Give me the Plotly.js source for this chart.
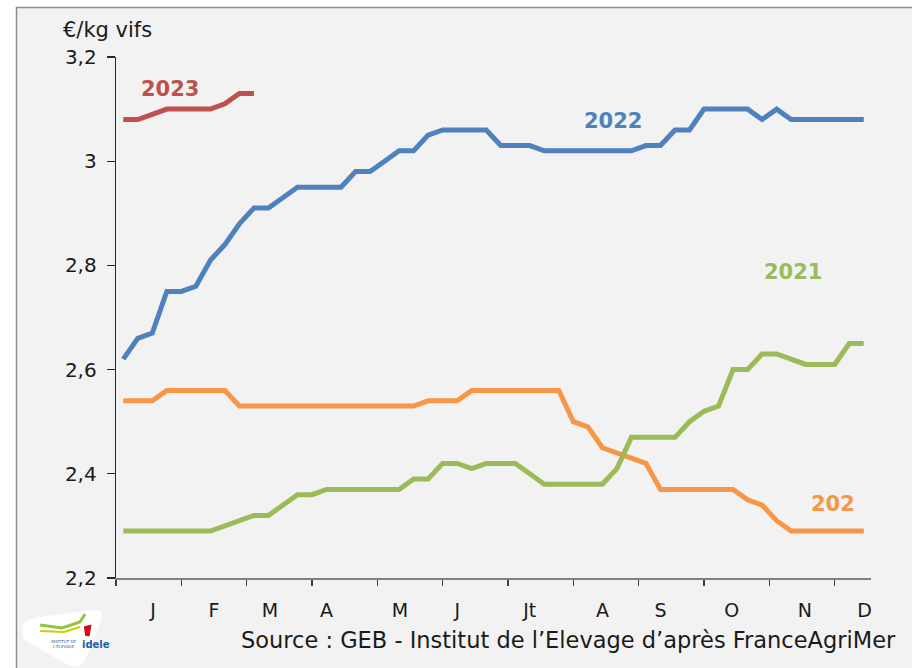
<!DOCTYPE html>
<html>
<head>
<meta charset="utf-8">
<script src="https://cdn.plot.ly/plotly-3.0.1.min.js"></script>
<style>html,body{margin:0;padding:0;background:#fff;}#chart{width:912px;height:668px;}</style>
</head>
<body>
<div id="chart"></div>
<script>
// ---- data ----
const weeks = [1,2,3,4,5,6,7,8,9,10,11,12,13,14,15,16,17,18,19,20,21,22,23,24,25,26,
  27,28,29,30,31,32,33,34,35,36,37,38,39,40,41,42,43,44,45,46,47,48,49,50,51,52];
const price2020 = [2.54,2.54,2.54,2.56,2.56,2.56,2.56,2.56,2.53,2.53,2.53,2.53,2.53,2.53,2.53,2.53,2.53,2.53,2.53,2.53,2.53,
  2.54,2.54,2.54,2.56,2.56,2.56,2.56,2.56,2.56,2.56,2.50,2.49,2.45,2.44,2.43,2.42,
  2.37,2.37,2.37,2.37,2.37,2.37,2.35,2.34,2.31,2.29,2.29,2.29,2.29,2.29,2.29];
const price2021 = [2.29,2.29,2.29,2.29,2.29,2.29,2.29,2.30,2.31,2.32,2.32,2.34,2.36,2.36,2.37,2.37,2.37,2.37,2.37,2.37,
  2.39,2.39,2.42,2.42,2.41,2.42,2.42,2.42,2.40,2.38,2.38,2.38,2.38,2.38,2.41,2.47,2.47,2.47,2.47,
  2.50,2.52,2.53,2.60,2.60,2.63,2.63,2.62,2.61,2.61,2.61,2.65,2.65];
const price2022 = [2.62,2.66,2.67,2.75,2.75,2.76,2.81,2.84,2.88,2.91,2.91,2.93,2.95,2.95,2.95,2.95,2.98,2.98,3.00,3.02,3.02,
  3.05,3.06,3.06,3.06,3.06,3.03,3.03,3.03,3.02,3.02,3.02,3.02,3.02,3.02,3.02,3.03,3.03,3.06,3.06,
  3.10,3.10,3.10,3.10,3.08,3.10,3.08,3.08,3.08,3.08,3.08,3.08];
const weeks2023 = [1,2,3,4,5,6,7,8,9,10];
const price2023 = [3.08,3.08,3.09,3.10,3.10,3.10,3.10,3.11,3.13,3.13];

const monthLabels = ["J","F","M","A","M","J","Jt","A","S","O","N","D"];
const monthLabelWeeks = [3.05,7.25,11.1,15,20.05,24,29,34,38,42.9,47.95,52.05];
const monthTickWeeks = [0.5,5,9.5,14,18.5,23,27.5,32,36.5,41,45.5,50];
const yTicks = [2.2,2.4,2.6,2.8,3.0,3.2];

const seriesNames = ["202","2021","2022","2023"];

// ---- styling / layout ----
const FONT = "DejaVu Sans";
const colors = {c2020:"#f79646", c2021:"#9bbb59", c2022:"#4f81bd", c2023:"#c0504d"};
const W = 912, H = 668, L = 116, R = 41, T = 57, B = 90;
const pw = W - L - R, ph = H - T - B;
const px = v => (v - L) / pw;         // pixel x -> paper x
const py = v => (H - B - v) / ph;     // pixel y -> paper y

function line(x, y, c) {
  return {x: x, y: y, type: "scatter", mode: "lines",
    line: {color: c, width: 5, shape: "linear"}, hoverinfo: "skip"};
}
const traces = [
  line(weeks, price2020, colors.c2020),
  line(weeks, price2021, colors.c2021),
  line(weeks, price2022, colors.c2022),
  line(weeks2023, price2023, colors.c2023),
  {x: [monthLabelWeeks[0]], y: [2.2], xaxis: "x2", type: "scatter", mode: "markers",
   marker: {opacity: 0}, hoverinfo: "skip"}
];

function logoPath() {
  const pts = [
    ["M",23,632],["Q",19,621,40,617],["L",94,610],["Q",105,609,101,621],
    ["L",85,660],["Q",79,671,66,664],["L",28,642],["Q",20,638,23,632]
  ];
  return pts.map(p => p[0] + (p.length === 3 ? (px(p[1]) + "," + py(p[2])) :
     (px(p[1]) + "," + py(p[2]) + " " + px(p[3]) + "," + py(p[4])))).join(" ") + " Z";
}
function pth(pts) {
  return pts.map((p,i) => (i ? "L" : "M") + px(p[0]) + "," + py(p[1])).join(" ");
}

const layout = {
  width: W, height: H,
  margin: {l: L, r: R, t: T, b: B, pad: 0},
  paper_bgcolor: "#ffffff",
  plot_bgcolor: "#f2f2f2",
  separators: ", ",
  showlegend: false,
  font: {family: FONT, color: "#1a1a1a"},
  xaxis: {
    range: [0.5, 52.5], tickmode: "array", tickvals: monthTickWeeks,
    ticktext: monthTickWeeks.map(() => ""), showticklabels: false,
    ticks: "outside", ticklen: 6, tickwidth: 1.3, tickcolor: "#404040",
    showline: true, linecolor: "#808080", linewidth: 1.8,
    showgrid: false, zeroline: false, fixedrange: true
  },
  xaxis2: {
    overlaying: "x", anchor: "y", side: "bottom", range: [0.5, 52.5],
    tickmode: "array", tickvals: monthLabelWeeks, ticktext: monthLabels,
    ticks: "outside", ticklen: 15, tickcolor: "rgba(0,0,0,0)",
    showline: false, showgrid: false, zeroline: false,
    tickfont: {family: FONT, size: 19, color: "#1a1a1a"}
  },
  yaxis: {
    range: [2.2, 3.2], tickmode: "array", tickvals: yTicks,
    ticks: "outside", ticklen: 8, tickwidth: 1.3, tickcolor: "#262626",
    showline: true, linecolor: "#262626", linewidth: 1.3,
    showgrid: false, zeroline: false, ticklabelstandoff: 6,
    tickfont: {family: FONT, size: 20, color: "#1a1a1a"}
  },
  shapes: [
    {type: "rect", xref: "paper", yref: "paper", layer: "below",
     x0: px(16.5), x1: px(930), y0: py(690), y1: py(7.5),
     fillcolor: "#f2f2f2", line: {color: "#8c8c8c", width: 1.5}},
    {type: "path", xref: "paper", yref: "paper", layer: "above",
     path: logoPath(), fillcolor: "#ffffff", line: {width: 0}},
    {type: "path", xref: "paper", yref: "paper", path: pth([[40,625],[62,628],[80,622],[85,614]]),
     line: {color: "#8dc63f", width: 3}},
    {type: "path", xref: "paper", yref: "paper", path: pth([[40,631],[64,632],[80,627]]),
     line: {color: "#c7d300", width: 2}},
    {type: "path", xref: "paper", yref: "paper", path: pth([[84,627],[91,625],[89,636],[85,635]]),
     fillcolor: "#e2001a", line: {color: "#e2001a", width: 1}}
  ],
  annotations: [
    {xref: "paper", yref: "paper", x: px(61), y: py(30), xanchor: "left", yanchor: "middle",
     text: "€/kg vifs", showarrow: false, font: {family: FONT, size: 21, color: "#1a1a1a"}},
    {xref: "paper", yref: "paper", x: px(898), y: py(640), xanchor: "right", yanchor: "middle",
     text: "Source : GEB - Institut de l’Elevage d’après FranceAgriMer", showarrow: false,
     font: {family: FONT, size: 22.5, color: "#1a1a1a"}},
    {xref: "x", yref: "y", x: 4.2, y: 3.138, text: "<b>" + seriesNames[3] + "</b>", showarrow: false,
     font: {family: FONT, size: 21, color: colors.c2023}},
    {xref: "x", yref: "y", x: 34.7, y: 3.077, text: "<b>" + seriesNames[2] + "</b>", showarrow: false,
     font: {family: FONT, size: 21, color: colors.c2022}},
    {xref: "x", yref: "y", x: 47.1, y: 2.787, text: "<b>" + seriesNames[1] + "</b>", showarrow: false,
     font: {family: FONT, size: 21, color: colors.c2021}},
    {xref: "x", yref: "y", x: 49.9, y: 2.342, text: "<b>" + seriesNames[0] + "</b>", showarrow: false,
     font: {family: FONT, size: 21, color: colors.c2020}},
    {xref: "paper", yref: "paper", x: px(80), y: py(644), xanchor: "left", yanchor: "middle",
     text: "<b>idele</b>", showarrow: false, font: {family: FONT, size: 10, color: "#1f5fa8"}},
    {xref: "paper", yref: "paper", x: px(79), y: py(644), xanchor: "right", yanchor: "middle",
     text: "INSTITUT DE<br>L'ÉLEVAGE", showarrow: false, font: {family: FONT, size: 4, color: "#1f5fa8"}}
  ]
};

Plotly.newPlot("chart", traces, layout, {staticPlot: true, displayModeBar: false});
</script>
</body>
</html>
